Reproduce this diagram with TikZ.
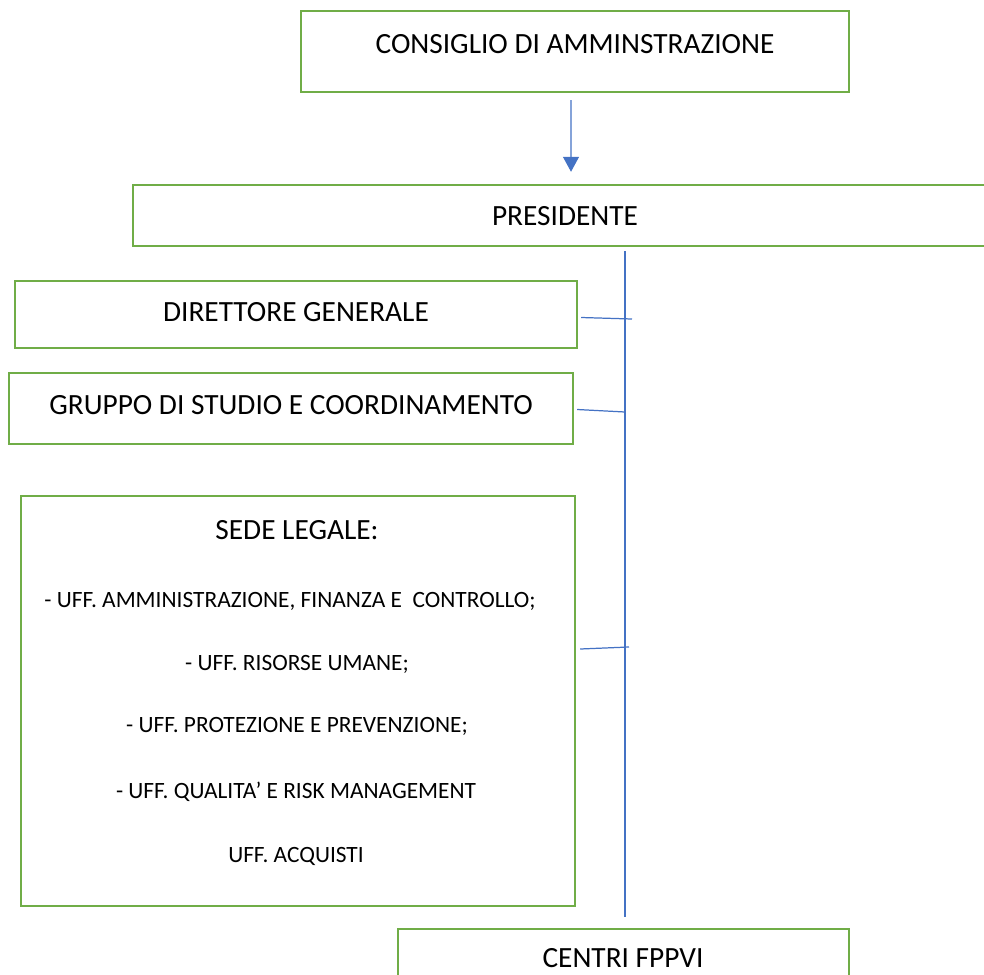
\documentclass[tikz,border=0pt]{standalone}
\usepackage{fontspec}
\setmainfont{Carlito}
\usetikzlibrary{arrows.meta,calc}
\definecolor{boxgreen}{HTML}{70AD47}
\definecolor{lineblue}{HTML}{4472C4}

\begin{document}
\begin{tikzpicture}[x=0.02cm,y=-0.02cm,
	box/.style={draw=boxgreen,line width=1.4pt,inner sep=0pt},
	title/.style={font=\fontsize{16.7}{20}\selectfont,inner sep=0pt},
	item/.style={font=\fontsize{13.3}{16}\selectfont,inner sep=0pt},
	link/.style={draw=lineblue,line width=0.7pt}]
		\useasboundingbox (0,0) rectangle (984,974);
		\clip (0,0) rectangle (984,974);
		
		\node[box,minimum width=548*0.02cm,minimum height=81*0.02cm] (cda) at (575,51.5) {};
		\node[box,minimum width=867*0.02cm,minimum height=61*0.02cm] (pres) at (566.5,215.5) {};
		\node[box,minimum width=562*0.02cm,minimum height=67*0.02cm] (dg) at (296,314.5) {};
		\node[box,minimum width=564*0.02cm,minimum height=71*0.02cm] (gruppo) at (291,408.5) {};
		\node[box,minimum width=554*0.02cm,minimum height=410*0.02cm] (sede) at (298,701) {};
		\node[box,minimum width=451*0.02cm,minimum height=80*0.02cm] (centri) at (623.5,969) {};
		
		\node[title] (cdatxt) at (575,44) {CONSIGLIO DI AMMINSTRAZIONE};
		\node[title] (prestxt) at (565,216) {PRESIDENTE};
		\node[title] (dgtxt) at (296,312) {DIRETTORE GENERALE};
		\node[title] (gruppotxt) at (291,405) {GRUPPO DI STUDIO E COORDINAMENTO};
		\node[title] (sedetxt) at (297,530) {SEDE LEGALE:};
		\node[item] (uff1) at (290,601) {- UFF. AMMINISTRAZIONE, FINANZA E\ \ CONTROLLO;};
		\node[item] (uff2) at (297,664) {- UFF. RISORSE UMANE;};
		\node[item] (uff3) at (297,726) {- UFF. PROTEZIONE E PREVENZIONE;};
		\node[item] (uff4) at (296,792) {- UFF. QUALITA’ E RISK MANAGEMENT};
		\node[item] (uff5) at (296,856) {UFF. ACQUISTI};
		\node[title] (centritxt) at (623,958) {CENTRI FPPVI};
		
		\coordinate (trunktop) at (625,251);
		\coordinate (trunkbot) at (625,917);
		\coordinate (dgend) at (632,319);
		\coordinate (gruppoend) at (625,412);
		\coordinate (sedeend) at (629,647);
		
		\draw[link,-{Triangle[length=15*0.02cm,width=16*0.02cm]},lineblue] ($(cda.south)+(-4,7)$) to ($(pres.north)+(4.5,-12)$);
		\draw[link] (trunktop) to (trunkbot);
		\draw[link] ($(dg.east)+(3,3)$) to (dgend);
		\draw[link] ($(gruppo.east)+(3,1)$) to (gruppoend);
		\draw[link] ($(sede.east)+(4,-52)$) to (sedeend);
	\end{tikzpicture}
\end{document}
